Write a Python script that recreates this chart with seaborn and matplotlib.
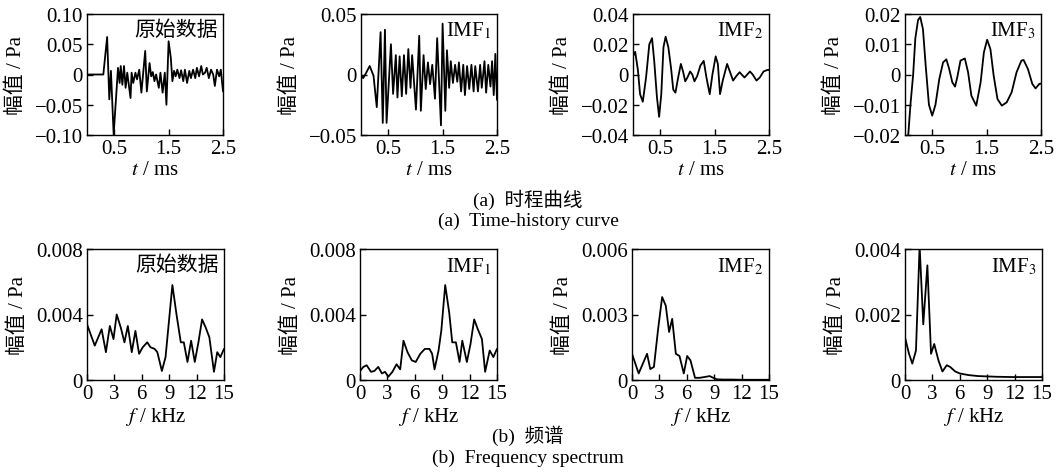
import numpy as np
import pandas as pd
import seaborn as sns
import matplotlib.pyplot as plt

sns.set_style("ticks")
plt.rcParams['font.family'] = ['Liberation Serif', 'Noto Sans CJK SC']
plt.rcParams['mathtext.fontset'] = 'stix'
plt.rcParams['axes.unicode_minus'] = True
plt.rcParams['text.color'] = 'black'
plt.rcParams['axes.labelcolor'] = 'black'
plt.rcParams['xtick.color'] = 'black'
plt.rcParams['ytick.color'] = 'black'

# ---- time-history curves (t in ms, amplitude in Pa) ----
raw_t = [0, 0.30, 0.37, 0.41, 0.44, 0.49, 0.57, 0.60, 0.62, 0.65, 0.68, 0.71, 0.74,
         0.80, 0.82, 0.85, 0.89, 0.92, 0.96, 1.00, 1.07, 1.10, 1.15, 1.18, 1.21, 1.24,
         1.27, 1.32, 1.35, 1.39, 1.43, 1.46, 1.50, 1.54, 1.57, 1.60, 1.63, 1.66, 1.70,
         1.73, 1.77, 1.80, 1.84, 1.88, 1.91, 1.95, 1.99, 2.02, 2.06, 2.10, 2.13, 2.17,
         2.20, 2.24, 2.28, 2.32, 2.35, 2.39, 2.43, 2.46, 2.50]
raw_v = [0, 0, 0.062, -0.041, 0.006, -0.099, 0.011, -0.014, 0.014, -0.017, 0.014, -0.022, 0.003,
         -0.039, 0.003, -0.014, 0.003, -0.008, 0.008, -0.030, 0.039, -0.028, 0.019, -0.003, 0.004, -0.011,
         0.0, -0.022, 0.003, -0.030, 0.003, -0.050, 0.055, 0.028, -0.011, 0.006, -0.003, 0.008, -0.006,
         0.007, -0.011, 0.008, -0.014, 0.006, -0.006, 0.008, -0.006, 0.011, -0.003, 0.014, 0.0, 0.003,
         0.011, -0.006, 0.008, 0.0, -0.019, 0.008, -0.003, 0.008, -0.028]

imf1_t = [0.01, 0.04, 0.09, 0.16, 0.23, 0.29, 0.36, 0.40, 0.44, 0.47, 0.55, 0.59, 0.64, 0.67,
          0.71, 0.75, 0.79, 0.83, 0.87, 0.91, 0.94, 1.01, 1.07, 1.10, 1.15, 1.19, 1.23, 1.27,
          1.31, 1.36, 1.40, 1.47, 1.50, 1.55, 1.58, 1.62, 1.65, 1.69, 1.73, 1.77, 1.80, 1.84,
          1.88, 1.91, 1.95, 1.99, 2.03, 2.07, 2.10, 2.15, 2.19, 2.22, 2.27, 2.30, 2.34, 2.38,
          2.41, 2.44, 2.47, 2.50]
imf1_v = [-0.001, -0.003, 0.001, 0.007, -0.001, -0.027, 0.035, -0.040, 0.037, -0.040, 0.025, -0.016,
          0.016, -0.019, 0.015, -0.018, 0.016, -0.016, 0.021, -0.011, 0.016, -0.029, 0.032, -0.030,
          0.016, -0.012, 0.010, -0.008, 0.008, -0.020, 0.030, -0.042, 0.042, -0.030, 0.020, -0.011,
          0.011, -0.007, 0.008, -0.006, 0.010, -0.014, 0.008, -0.017, 0.007, -0.012, 0.008, -0.014,
          0.007, -0.014, 0.008, -0.011, 0.011, -0.015, 0.008, -0.010, 0.011, -0.017, 0.017, -0.021]

imf2_t = [0.0, 0.04, 0.09, 0.13, 0.18, 0.24, 0.30, 0.35, 0.39, 0.44, 0.48, 0.52, 0.56, 0.60,
          0.65, 0.70, 0.74, 0.78, 0.83, 0.88, 0.92, 0.96, 1.00, 1.05, 1.09, 1.13, 1.18, 1.24,
          1.30, 1.35, 1.41, 1.46, 1.52, 1.56, 1.60, 1.65, 1.73, 1.79, 1.84, 1.90, 1.96, 2.01,
          2.05, 2.10, 2.15, 2.20, 2.27, 2.33, 2.40, 2.47, 2.50]
imf2_v = [0.012, 0.015, 0.003, -0.013, -0.018, -0.002, 0.020, 0.024, 0.009, -0.015, -0.028, -0.013,
          0.018, 0.025, 0.018, 0.004, -0.010, -0.012, -0.002, 0.007, 0.002, -0.0045, -0.002, 0.002,
          0.000, -0.0045, -0.001, 0.006, 0.009, -0.002, -0.013, 0.000, 0.012, 0.007, -0.013, -0.004,
          0.007, 0.001, -0.004, -0.001, 0.0015, -0.0005, -0.002, 0.000, 0.002, 0.000, -0.004, -0.002,
          0.002, 0.003, 0.003]

imf3_t = [0.03, 0.06, 0.10, 0.15, 0.19, 0.24, 0.28, 0.33, 0.38, 0.44, 0.50, 0.56, 0.63, 0.70,
          0.76, 0.81, 0.87, 0.92, 0.96, 1.02, 1.10, 1.16, 1.22, 1.31, 1.39, 1.45, 1.51, 1.57,
          1.63, 1.70, 1.78, 1.87, 1.96, 2.05, 2.14, 2.18, 2.26, 2.34, 2.40, 2.47, 2.50]
imf3_v = [-0.028, -0.020, -0.010, 0.0, 0.012, 0.018, 0.019, 0.015, 0.003, -0.010, -0.0136, -0.010,
          -0.0015, 0.004, 0.005, 0.002, -0.0026, -0.004, -0.001, 0.0046, 0.0053, 0.0007, -0.007,
          -0.0103, -0.0026, 0.0073, 0.0115, 0.0084, -0.0004, -0.0081, -0.0103, -0.0092, -0.0059,
          0.0007, 0.0046, 0.0048, 0.0018, -0.0031, -0.0046, -0.0031, -0.003]

# ---- spectra (f in kHz, amplitude in Pa) ----
raw_f = [0, 0.85, 1.6, 2.07, 2.5, 2.9, 3.25, 3.7, 4.1, 4.47, 4.9, 5.3, 5.7, 6.1, 6.6, 6.95, 7.4,
         7.7, 8.2, 8.6, 9.35, 9.8, 10.27, 10.6, 11.0, 11.4, 11.8, 12.2, 12.6, 13.0, 13.4, 13.9,
         14.26, 14.6, 15.0]
raw_a = [0.0034, 0.0021, 0.0031, 0.0017, 0.0033, 0.0025, 0.0040, 0.0032, 0.0023, 0.0033, 0.0017,
         0.0030, 0.0016, 0.0020, 0.0023, 0.0020, 0.0019, 0.0017, 0.00055, 0.0014, 0.0058, 0.0040,
         0.0023, 0.0023, 0.0011, 0.0024, 0.0011, 0.0023, 0.0037, 0.0032, 0.0026, 0.0005, 0.0017,
         0.0014, 0.0019]

imf1_f = [0, 0.37, 0.73, 1.2, 1.57, 2.0, 2.4, 2.74, 3.1, 3.55, 4.0, 4.4, 4.76, 5.2, 5.67, 6.1, 6.6,
          7.1, 7.6, 7.9, 8.16, 8.6, 8.9, 9.33, 9.77, 10.1, 10.5, 10.9, 11.2, 11.7, 12.1, 12.5, 12.9,
          13.35, 13.7, 14.2, 14.6, 15.0]
imf1_a = [0.00055, 0.0008, 0.0009, 0.0005, 0.00055, 0.0008, 0.0004, 0.0005, 0.0002, 0.0005, 0.00096,
          0.00065, 0.0024, 0.0017, 0.0012, 0.0011, 0.0016, 0.0019, 0.0019, 0.0016, 0.00065, 0.0018,
          0.0030, 0.0058, 0.0041, 0.0023, 0.0023, 0.0011, 0.0024, 0.0011, 0.0022, 0.0037, 0.0031,
          0.0025, 0.0005, 0.0018, 0.0014, 0.0019]

imf2_f = [0, 0.73, 1.65, 2.0, 2.4, 2.85, 3.3, 3.7, 4.06, 4.4, 4.8, 5.2, 5.67, 6.04, 6.4, 6.9, 7.4,
          8.0, 8.5, 8.9, 9.3, 10.0, 11.0, 12.0, 13.0, 14.0, 15.0]
imf2_a = [0.0012, 0.0003, 0.0012, 0.0005, 0.0006, 0.0023, 0.0038, 0.0034, 0.0022, 0.0028, 0.0012,
          0.0011, 0.0003, 0.0011, 0.0009, 0.0001, 0.0001, 0.00014, 0.00018, 0.0001, 0.00003, 0.00002,
          0.00002, 0.00001, 0.00001, 0.00001, 0.00001]

imf3_f = [0, 0.44, 0.8, 1.2, 1.6, 2.0, 2.45, 2.85, 3.2, 3.66, 4.1, 4.57, 4.94, 5.5, 6.0, 6.95, 8.0,
          9.9, 11.7, 15.0]
imf3_a = [0.0013, 0.0008, 0.0005, 0.0009, 0.0041, 0.0017, 0.0035, 0.0008, 0.0011, 0.0006, 0.00026,
          0.00045, 0.0004, 0.00026, 0.0002, 0.00015, 0.00012, 0.0001, 0.00009, 0.00009]

names = ["原始数据", "IMF$_1$", "IMF$_2$", "IMF$_3$"]

time_series = [(raw_t, raw_v), (imf1_t, imf1_v), (imf2_t, imf2_v), (imf3_t, imf3_v)]
time_yticks = [[-0.10, -0.05, 0, 0.05, 0.10], [-0.05, 0, 0.05], [-0.04, -0.02, 0, 0.02, 0.04],
               [-0.02, -0.01, 0, 0.01, 0.02]]
time_ylabels = [["\u22120.10", "\u22120.05", "0", "0.05", "0.10"], ["\u22120.05", "0", "0.05"],
                ["\u22120.04", "\u22120.02", "0", "0.02", "0.04"],
                ["\u22120.02", "\u22120.01", "0", "0.01", "0.02"]]
time_xticks = [0.5, 1.5, 2.5]

spectra = [(raw_f, raw_a), (imf1_f, imf1_a), (imf2_f, imf2_a), (imf3_f, imf3_a)]
spec_yticks = [[0, 0.004, 0.008], [0, 0.004, 0.008], [0, 0.003, 0.006], [0, 0.002, 0.004]]
spec_ylabels = [["0", "0.004", "0.008"], ["0", "0.004", "0.008"], ["0", "0.003", "0.006"],
                ["0", "0.002", "0.004"]]
spec_xticks = [0, 3, 6, 9, 12, 15]

W, H = 1057, 477
fig = plt.figure(figsize=(W / 100, H / 100), dpi=100)
lefts = [87, 361, 633, 905]
width = 136
fs = 15


def style(ax):
    for s in ax.spines.values():
        s.set_visible(True)
        s.set_color('black')
        s.set_linewidth(1.0)
    ax.tick_params(direction='in', length=4, width=1.0, labelsize=fs, colors='black',
                   top=False, right=False, pad=3)


for i in range(4):
    # time-history row
    ax = fig.add_axes([lefts[i] / W, 1 - 136 / H, width / W, 121 / H])
    t, v = time_series[i]
    df = pd.DataFrame({'t': t, 'v': v})
    sns.lineplot(data=df, x='t', y='v', ax=ax, color='black', lw=1.3)
    ax.set_xlim(0, 2.5)
    ax.set_ylim(time_yticks[i][0], time_yticks[i][-1])
    ax.set_xticks(time_xticks)
    ax.set_xticklabels([str(x) for x in time_xticks])
    ax.set_yticks(time_yticks[i])
    ax.set_yticklabels(time_ylabels[i])
    ax.set_xlabel("$t$ / ms", fontsize=fs, labelpad=1)
    ax.set_ylabel("幅值 / Pa", fontsize=fs, labelpad=6)
    ax.text(0.96, 0.95, names[i], transform=ax.transAxes, ha='right', va='top', fontsize=fs)
    style(ax)

    # spectrum row
    ax = fig.add_axes([(lefts[i] - (1 if i in (1, 2) else 0)) / W, 1 - 381 / H, (width + 1) / W, 131 / H])
    f, a = spectra[i]
    df = pd.DataFrame({'f': f, 'a': a})
    sns.lineplot(data=df, x='f', y='a', ax=ax, color='black', lw=1.3)
    ax.set_xlim(0, 15)
    ax.set_ylim(spec_yticks[i][0], spec_yticks[i][-1])
    ax.set_xticks(spec_xticks)
    ax.set_xticklabels([str(x) for x in spec_xticks])
    ax.set_yticks(spec_yticks[i])
    ax.set_yticklabels(spec_ylabels[i])
    ax.set_xlabel("$f$ / kHz", fontsize=fs, labelpad=1)
    ax.set_ylabel("幅值 / Pa", fontsize=fs, labelpad=6)
    ax.text(0.96, 0.95, names[i], transform=ax.transAxes, ha='right', va='top', fontsize=fs)
    style(ax)

fig.text(528 / W, 1 - 200 / H, "(a)  时程曲线", ha='center', va='center', fontsize=14)
fig.text(528 / W, 1 - 221 / H, "(a)  Time-history curve", ha='center', va='center', fontsize=14)
fig.text(528 / W, 1 - 436 / H, "(b)  频谱", ha='center', va='center', fontsize=14)
fig.text(528 / W, 1 - 458 / H, "(b)  Frequency spectrum", ha='center', va='center', fontsize=14)

fig.savefig("out.png", dpi=100)
